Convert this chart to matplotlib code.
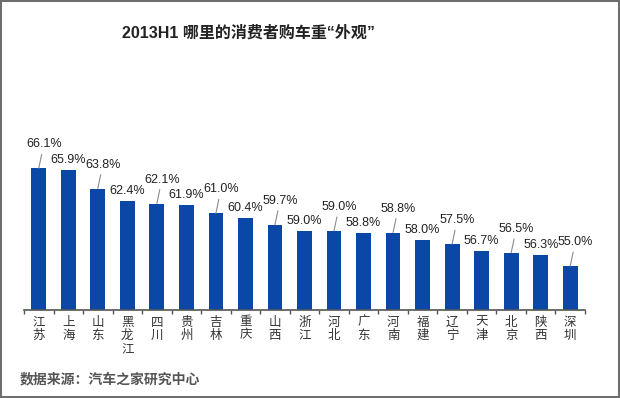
import matplotlib
matplotlib.use("Agg")
import matplotlib.pyplot as plt
from matplotlib.patches import Rectangle

plt.rcParams['font.family'] = ['Liberation Sans', 'Noto Sans CJK SC', 'DejaVu Sans']

# Data
provinces = ["江苏", "上海", "山东", "黑龙江", "四川", "贵州", "吉林", "重庆", "山西",
             "浙江", "河北", "广东", "河南", "福建", "辽宁", "天津", "北京", "陕西", "深圳"]
values = [66.1, 65.9, 63.8, 62.4, 62.1, 61.9, 61.0, 60.4, 59.7,
          59.0, 59.0, 58.8, 58.8, 58.0, 57.5, 56.7, 56.5, 56.3, 55.0]

title = "2013H1 哪里的消费者购车重“外观”"
source = "数据来源：汽车之家研究中心"

BAR_COLOR = "#0b47a6"

fig = plt.figure(figsize=(6.2, 3.98), dpi=100)
ax = fig.add_axes([24 / 620, 1 - 310 / 398, 561 / 620, 176 / 398])

x = list(range(len(values)))
ax.bar(x, values, width=0.5, color=BAR_COLOR)
ax.set_ylim(50, 70)
ax.set_xlim(-0.5, len(values) - 0.5)

# value labels, every other one lifted with a leader line
for i, v in enumerate(values):
    label = f"{v:.1f}%"
    if i % 2 == 0:
        ax.annotate(label, xy=(i, v), xytext=(5, 24), textcoords="offset pixels",
                    ha="center", va="center", fontsize=9, color="#222222",
                    arrowprops=dict(arrowstyle="-", color="#8c8c8c", lw=0.8,
                                    shrinkA=1, shrinkB=0))
    else:
        ax.annotate(label, xy=(i, v), xytext=(0, 10), textcoords="offset pixels",
                    ha="center", va="center", fontsize=9, color="#222222")

# axis styling
for side in ["left", "right", "top"]:
    ax.spines[side].set_visible(False)
ax.spines["bottom"].set_color("#555555")
ax.spines["bottom"].set_linewidth(1.2)
ax.set_yticks([])
ax.set_xticks(x)
ax.set_xticklabels(["\n".join(p) for p in provinces], fontsize=9,
                   color="#333333", linespacing=1.02,
                   family=["Noto Sans CJK SC", "DejaVu Sans"])
ax.tick_params(axis="x", which="major", length=0, pad=4)
ax.set_xticks([i - 0.5 for i in range(len(values) + 1)], minor=True)
ax.tick_params(axis="x", which="minor", length=3, width=1, color="#555555", direction="out")

fig.text(249 / 620, 1 - 33 / 398, title, ha="center", va="center",
         fontsize=11.5, fontweight="bold", color="#222222")
fig.text(20 / 620, 1 - 379 / 398, source, ha="left", va="center",
         fontsize=10, fontweight="bold", color="#555555",
         family=["Noto Sans CJK SC", "DejaVu Sans"])

fig.patches.append(Rectangle((0, 0), 1, 1, transform=fig.transFigure, fill=False,
                             edgecolor="#6e6e6e", lw=2.9))

fig.savefig("out.png", dpi=100)
